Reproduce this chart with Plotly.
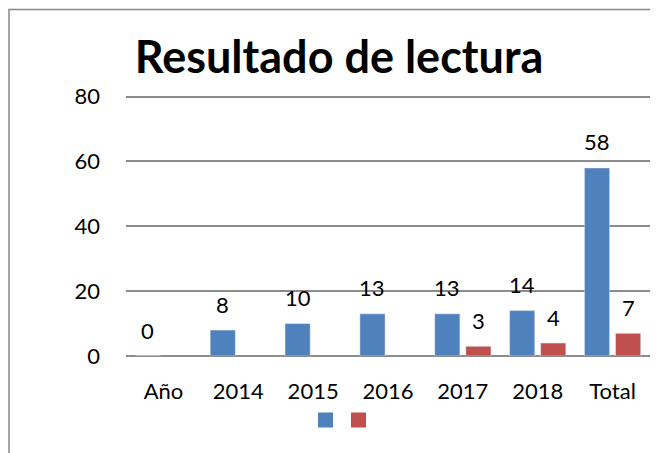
import plotly.graph_objects as go

# ---- Data ----
categories = ["Año", "2014", "2015", "2016", "2017", "2018", "Total"]
serie_azul = [0, 8, 10, 13, 13, 14, 58]
serie_roja = [None, None, None, None, 3, 4, 7]

AZUL = "#4F81BD"
ROJO = "#C0504D"
FONT = "Lato, 'Open Sans', sans-serif"

# page body adds an 8px offset, so the figure is laid out 8px smaller
W, H = 650, 445
ML, MR, MT, MB = 118, 8, 87, 97

BARGAP = 0.17
GROUPGAP = 0.19
PLOT_W = W - ML - MR
PLOT_H = H - MT - MB
slot = (1 - BARGAP) * PLOT_W / len(categories) / 2
shift = slot / 2

fig = go.Figure()
fig.add_trace(go.Bar(x=categories, y=serie_azul, marker_color=AZUL, showlegend=False))
fig.add_trace(go.Bar(x=categories, y=serie_roja, marker_color=ROJO, showlegend=False))

# legend squares (no text, like the original), one small legend each
for color, leg in ((AZUL, "legend"), (ROJO, "legend2")):
    fig.add_trace(go.Scatter(x=[categories[0]], y=[None], mode="markers", name="",
                             legend=leg,
                             marker=dict(symbol="square", size=15, color=color)))

# data labels above the bars (x given as category index)
for serie, dx in ((serie_azul, -shift), (serie_roja, shift)):
    for i, val in enumerate(serie):
        if val is None:
            continue
        fig.add_annotation(x=i, y=val, text=str(val), showarrow=False,
                           xshift=dx, yshift=26, yanchor="middle",
                           font=dict(size=22, color="black", family=FONT))

# chart border
fig.add_shape(type="rect", xref="paper", yref="paper",
              x0=(1 - ML) / PLOT_W, x1=1.05,
              y0=-0.5, y1=(H - MB - 1.5) / PLOT_H,
              line=dict(color="#888888", width=1.5), layer="above")

legend_style = dict(orientation="h", xref="container", xanchor="left",
                    y=1 - 412.5 / H, yref="container", yanchor="middle",
                    itemwidth=30, entrywidth=1, font=dict(size=14),
                    bgcolor="rgba(0,0,0,0)")

fig.update_layout(
    width=W, height=H,
    margin=dict(l=ML, r=MR, t=MT, b=MB, autoexpand=False),
    paper_bgcolor="white", plot_bgcolor="white",
    barmode="group", bargap=BARGAP, bargroupgap=GROUPGAP,
    font=dict(family=FONT, size=22, color="black"),
    title=dict(text="<b>Resultado de lectura</b>", x=331 / W, xref="container",
               xanchor="center", y=1 - 49 / H, yref="container", yanchor="middle",
               font=dict(size=45, family=FONT, color="black")),
    legend=dict(legend_style, x=297.5 / W),
    legend2=dict(legend_style, x=330.5 / W),
    xaxis=dict(type="category", range=[-0.5, len(categories) - 0.5],
               showgrid=False, showline=False, ticks="",
               ticklabelstandoff=20, tickfont=dict(size=22)),
    yaxis=dict(range=[0, 80.5], tickvals=[0, 20, 40, 60, 80], showgrid=True,
               gridcolor="#8c8c8c", gridwidth=1.5, zeroline=True,
               zerolinecolor="#8c8c8c", zerolinewidth=1.5,
               ticks="", ticklabelstandoff=25, tickfont=dict(size=22)),
)

fig.write_html("out.html")
